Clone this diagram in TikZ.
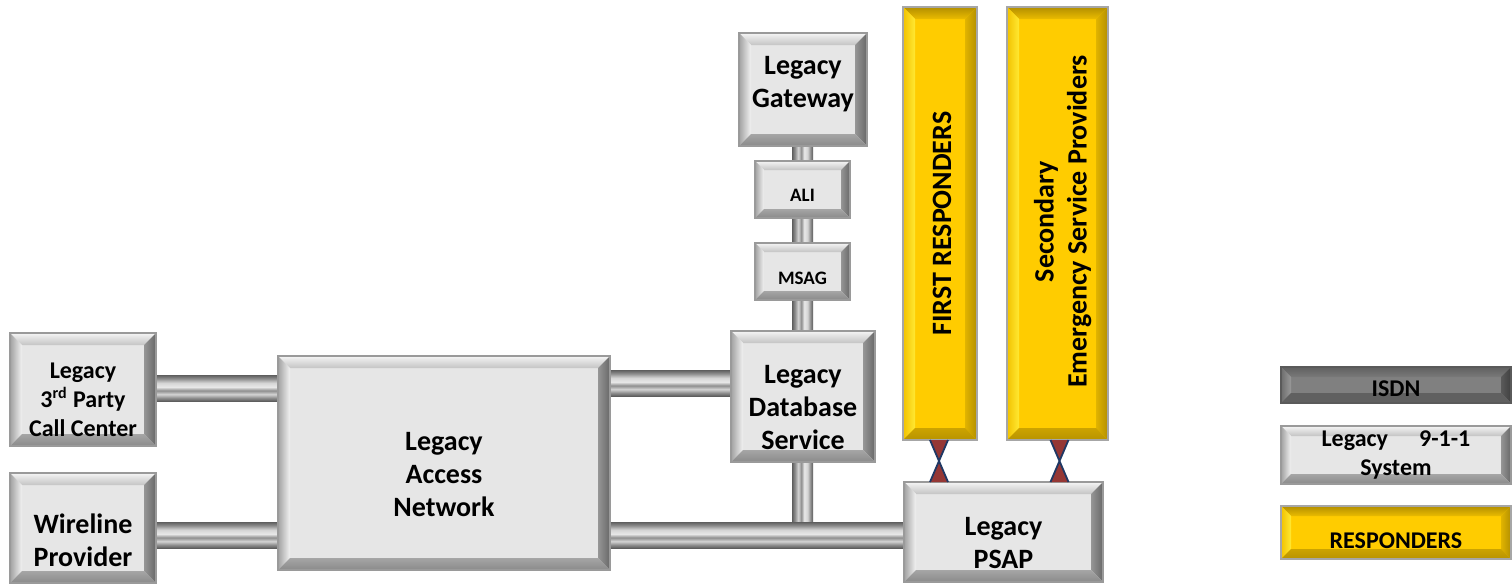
\documentclass[tikz,border=0pt]{standalone}
\usepackage{fontspec}
\setmainfont{Carlito}
\usetikzlibrary{backgrounds}
\definecolor{gface}{HTML}{E6E6E6}
\definecolor{gborder}{HTML}{9A9A9A}
\definecolor{yface}{HTML}{FFCC00}
\definecolor{yborder}{HTML}{A6A6A6}
\definecolor{dface}{HTML}{808080}
\definecolor{dborder}{HTML}{5A5A5A}
\definecolor{pd}{HTML}{5E5E5E}
\definecolor{pm}{HTML}{8E8E8E}
\definecolor{pl}{HTML}{D4D4D4}
\definecolor{pw}{HTML}{E8E8E8}
\definecolor{tiefill}{HTML}{953735}
\definecolor{tieline}{HTML}{1F3864}
\pgfdeclareverticalshading{pipeH}{100bp}{color(0bp)=(pd); color(25bp)=(pd); color(31bp)=(pm); color(38bp)=(pl); color(45bp)=(pm); color(52bp)=(pw); color(60bp)=(pl); color(68bp)=(pm); color(75bp)=(pd); color(100bp)=(pd)}
\pgfdeclarehorizontalshading{pipeV}{100bp}{color(0bp)=(pd); color(25bp)=(pd); color(32bp)=(pm); color(40bp)=(pl); color(47bp)=(pm); color(54bp)=(pw); color(62bp)=(pl); color(69bp)=(pm); color(75bp)=(pd); color(100bp)=(pd)}
\def\bevd{6pt}
\tikzset{
  x=0.5pt, y=-0.5pt,
  bd/.store in=\bevd,
  bev/.style n args={5}{fill=#1, inner sep=0pt, outer sep=0pt, line width=0.6pt,
    path picture={
      \path (path picture bounding box.north west) coordinate (pNW)
            (path picture bounding box.north east) coordinate (pNE)
            (path picture bounding box.south west) coordinate (pSW)
            (path picture bounding box.south east) coordinate (pSE)
            ([xshift=\bevd,yshift=-\bevd]path picture bounding box.north west) coordinate (iNW)
            ([xshift=-\bevd,yshift=-\bevd]path picture bounding box.north east) coordinate (iNE)
            ([xshift=\bevd,yshift=\bevd]path picture bounding box.south west) coordinate (iSW)
            ([xshift=-\bevd,yshift=\bevd]path picture bounding box.south east) coordinate (iSE);
      \path[#2] (pNW)--(pNE)--(iNE)--(iNW)--cycle;
      \path[#3] (pNW)--(iNW)--(iSW)--(pSW)--cycle;
      \path[#4] (pNE)--(pSE)--(iSE)--(iNE)--cycle;
      \path[#5] (pSW)--(iSW)--(iSE)--(pSE)--cycle;
    }},
  gbox/.style={bev={gface}{top color=white!96!black, bottom color=gface!85!black}{left color=gface!70!black, right color=white!95!black}{left color=gface!65!black, right color=gface!45!black}{top color=gface!72!black, bottom color=gface!60!black}, draw=gborder},
  ybox/.style={bev={yface}{top color=yface!70!black, bottom color=yface!92!black}{left color=yface!95!black, right color=yface!55!yellow!80!white}{left color=yface!88!black, right color=yface!70!black}{top color=yface!80!black, bottom color=yface!72!black}, draw=yborder},
  dbox/.style={bev={dface}{top color=dface!75!black, bottom color=dface!95!black}{left color=dface!85!black, right color=dface!80!white}{left color=dface!70!black, right color=dface!50!black}{fill=dface!75!black}, draw=dborder},
  txt/.style={font=\fontsize{14}{16.5}\selectfont\bfseries, align=center, text=black, inner sep=0pt},
  stxt/.style={font=\fontsize{12}{14.5}\selectfont\bfseries, align=center, text=black, inner sep=0pt},
  mtxt/.style={font=\fontsize{9.5}{11}\selectfont\bfseries, align=center, text=black, inner sep=0pt},
  pipeh/.style={shading=pipeH},
  pipev/.style={shading=pipeV},
  tie/.style={fill=tiefill},
  tiel/.style={draw=tieline, line width=0.9pt},
}
\begin{document}
\begin{tikzpicture}
\useasboundingbox (0,0) rectangle (1512,584);

% boxes
\node[gbox, minimum width=73pt, minimum height=56.5pt, label={[stxt,yshift=-5pt]center:{Legacy\\3\textsuperscript{rd} Party\\Call Center}}] (cc) at (83,389.5) {};
\node[gbox, minimum width=73pt, minimum height=55pt, label={[txt,yshift=-6pt]center:{Wireline\\Provider}}] (wp) at (83,528) {};
\node[gbox, minimum width=166pt, minimum height=107pt, label={[txt,yshift=-6pt]center:{Legacy\\Access\\Network}}] (an) at (444,463) {};
\node[gbox, minimum width=64pt, minimum height=56.5pt, label={[txt,yshift=2.5pt]center:{Legacy\\Gateway}}] (gw) at (803,89.5) {};
\node[gbox, bd=4.5pt, minimum width=47.5pt, minimum height=28.5pt, label={[mtxt,yshift=-3pt]center:{ALI}}] (ali) at (802.5,189.5) {};
\node[gbox, bd=4.5pt, minimum width=47.5pt, minimum height=28.5pt, label={[mtxt,yshift=-3.5pt]center:{MSAG}}] (msag) at (802.5,271.5) {};
\node[gbox, minimum width=72pt, minimum height=65.5pt, label={[txt,yshift=-5.5pt]center:{Legacy\\Database\\Service}}] (db) at (803,396.5) {};
\node[ybox, minimum width=37pt, minimum height=216.5pt, label={[txt,xshift=1pt]center:{\rotatebox{90}{FIRST RESPONDERS}}}] (fr) at (940,223.5) {};
\node[ybox, minimum width=50.5pt, minimum height=216.5pt, label={[txt,xshift=3pt,yshift=1pt]center:{\rotatebox{90}{\begin{tabular}{@{}c@{}}Secondary\\Emergency Service Providers\end{tabular}}}}] (sec) at (1057.5,223.5) {};
\node[gbox, minimum width=99.5pt, minimum height=50pt, label={[txt,yshift=-5.5pt]center:{Legacy\\PSAP}}] (psap) at (1003.5,532) {};

% legend
\node[dbox, bd=5pt, minimum width=115pt, minimum height=18pt, label={[stxt,yshift=-2pt]center:{ISDN}}] (isdn) at (1396,385) {};
\node[gbox, bd=5pt, minimum width=115pt, minimum height=29pt, label={[stxt]center:{Legacy\hspace{1.3em}9-1-1\\System}}] (l911) at (1396,455) {};
\node[ybox, bd=5pt, minimum width=115pt, minimum height=26.5pt, label={[stxt,yshift=-4pt]center:{RESPONDERS}}] (resp) at (1396,532.5) {};

% pipes
\begin{scope}[on background layer]
\fill[white] (0,0) rectangle (1512,584);
\shade[pipev] (792,0 |- gw.south) rectangle (813,522);
\shade[pipeh] (cc.east |- 0,375) rectangle (an.west |- 0,401);
\shade[pipeh] (wp.east |- 0,522) rectangle (an.west |- 0,548);
\shade[pipeh] (an.east |- 0,370) rectangle (db.west |- 0,396);
\shade[pipeh] (an.east |- 0,522) rectangle (psap.west |- 0,548);
\end{scope}

% ties between responders and PSAP
\coordinate (a1) at ([xshift=-5pt]fr.south);
\coordinate (a2) at ([xshift=4pt]fr.south);
\coordinate (a3) at (a1 |- psap.north);
\coordinate (a4) at (a2 |- psap.north);
\fill[tie] (a1) -- (a2) -- (a3) -- (a4) -- cycle;
\draw[tiel] (a1) -- (a4) (a2) -- (a3);
\coordinate (b1) at ([xshift=-3.5pt]sec.south);
\coordinate (b2) at ([xshift=5.5pt]sec.south);
\coordinate (b3) at (b1 |- psap.north);
\coordinate (b4) at (b2 |- psap.north);
\fill[tie] (b1) -- (b2) -- (b3) -- (b4) -- cycle;
\draw[tiel] (b1) -- (b4) (b2) -- (b3);
\end{tikzpicture}
\end{document}
